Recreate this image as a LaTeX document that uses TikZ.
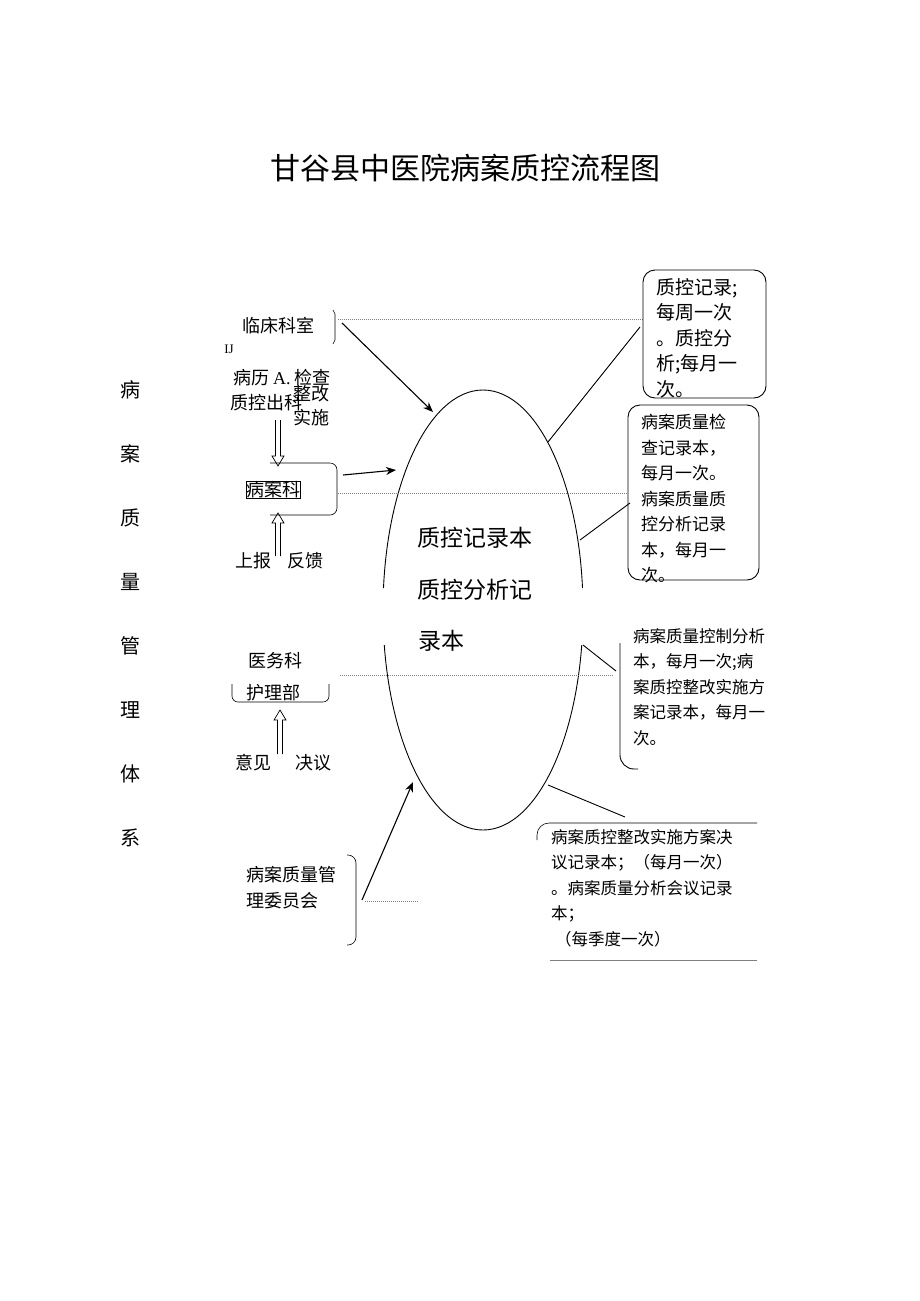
\documentclass[tikz,border=0pt]{standalone}
\usepackage{fontspec}
\setmainfont{Noto Sans CJK SC}
\newfontfamily\serif{Liberation Serif}
\usetikzlibrary{arrows.meta}
\begin{document}
\begin{tikzpicture}[x=1pt,y=-1pt,
  lbl/.style={inner sep=0,font=\fontsize{18}{18}\selectfont},
  big/.style={inner sep=0,font=\fontsize{23}{23}\selectfont},
  box/.style={inner sep=0,anchor=north west,align=left,font=\fontsize{18}{25.5}\selectfont},
  dot/.style={densely dotted,gray,line width=1pt},
  arr/.style={-{Stealth[length=10pt,width=8pt]},line width=1.1pt},
  ln/.style={line width=0.9pt}]
\useasboundingbox (0,0) rectangle (920,1301);
\newcommand\hollowarrow[3]{% x, tail y, head y (head direction by sign)
  \pgfmathsetmacro\dd{(#3>#2)?-10:10}
  \draw[line width=0.7pt] (#1-2.5,#2) -- (#1-2.5,#3+\dd) -- (#1-6,#3+\dd) -- (#1,#3) -- (#1+6,#3+\dd) -- (#1+2.5,#3+\dd) -- (#1+2.5,#2);}
\node[inner sep=0,font=\fontsize{30}{30}\selectfont] (title) at (465,168) {甘谷县中医院病案质控流程图};
\foreach \c [count=\i] in {病,案,质,量,管,理,体,系}
  \node[lbl,font=\fontsize{20}{20}\selectfont] (v\i) at (130,{326+64*\i}) {\c};
\begin{scope}
\clip (300,300) rectangle (600,588) (300,645) rectangle (600,840);
\draw[ln] (483,610) ellipse [x radius=100, y radius=220];
\end{scope}
\node[big] (t1) at (475,538) {质控记录本};
\node[big] (t2) at (475,590) {质控分析记};
\node[big] (t3) at (441,641) {录本};
% left top
\node[lbl] (lc) at (278,326) {临床科室};
\draw[line width=0.6pt] (333,310) -- (335,314) -- (335,340) -- (333,344);
\node[inner sep=0,font=\serif\fontsize{13}{13}\selectfont] (ij) at (229,349) {IJ};
\node[lbl,anchor=west] (bl) at (233,378) {病历 {\serif A.} 检查};
\node[lbl] (zk) at (266,403) {质控出科};
\node[lbl] (zg) at (311,394) {整改};
\node[lbl] (ss) at (311,418) {实施};
\hollowarrow{278}{420}{466}
\node[draw,inner sep=3pt,lbl] (bak) at (273,490) {病案科};
\draw[line width=0.6pt,rounded corners=7pt] (270,463) -- (337,463) -- (337,515) -- (270,515);
\hollowarrow{278}{556}{513}
\node[lbl] (sb) at (253,561) {上报};
\node[lbl] (fk) at (305,561) {反馈};
\coordinate (a1s) at (342,323); \coordinate (a1e) at (433,412);
\draw[arr] (a1s) -- (a1e);
\coordinate (a2s) at (343,475); \coordinate (a2e) at (396,470);
\draw[arr] (a2s) -- (a2e);
\draw[dot] (338,319) -- (643,319);
\draw[dot] (338,493) -- (628,493);
% middle left
\node[lbl] (ywk) at (275,661) {医务科};
\node[lbl] (hlb) at (273,693) {护理部};
\draw[line width=0.6pt,rounded corners=6pt] (232,684) -- (232,702) -- (329,702) -- (329,684);
\draw[dot] (340,675) -- (613,675);
\hollowarrow{280}{754}{710}
\node[lbl] (yj) at (253,763) {意见};
\node[lbl] (jy) at (313,763) {决议};
% committee
\node[lbl,align=left,anchor=west,font=\fontsize{18}{26}\selectfont] (wyh) at (246,888) {病案质量管\\理委员会};
\draw[line width=0.6pt,rounded corners=8pt] (347,855) -- (356,855) -- (356,945) -- (347,945);
\coordinate (a3s) at (362,900); \coordinate (a3e) at (413,782);
\draw[arr] (a3s) -- (a3e);
\draw[dot] (365,901) -- (418,901);
% right box 1
\draw[ln,rounded corners=12pt] (643,270) rectangle (766,398);
\node[box,text width=105pt,font=\fontsize{19}{25.5}\selectfont] (b1) at (656,278) {质控记录;\\每周一次\\。质控分\\析;每月一\\次。};
\draw[ln] (548,442) -- (640,327);
% right box 2
\draw[ln,rounded corners=12pt] (628,405) rectangle (759,580);
\node[box,text width=115pt,font=\fontsize{17}{25.5}\selectfont] (b2) at (641,414) {病案质量检\\查记录本，\\每月一次。\\病案质量质\\控分析记录\\本，每月一\\次。};
\draw[ln] (580,540) -- (630,503);
% right box 3
\draw[ln,rounded corners=14pt] (620,643) -- (620,769) -- (638,769);
\node[box,font=\fontsize{16.5}{25.5}\selectfont] (b3) at (633,628) {病案质量控制分析\\本，每月一次;病\\案质控整改实施方\\案记录本，每月一\\次。};
\draw[ln] (583,645) -- (616,671);
% bottom box
\draw[ln] (548,785) -- (625,817);
\draw[line width=0.6pt,rounded corners=12pt] (537,840) -- (537,823) -- (757,823);
\node[box,font=\fontsize{16.5}{25.5}\selectfont] (b4) at (551,829) {病案质控整改实施方案决\\议记录本；（每月一次）\\。病案质量分析会议记录\\本；\\\hspace*{4pt}（每季度一次）};
\draw[line width=0.6pt,gray] (550,960) -- (757,960);
\end{tikzpicture}
\end{document}
